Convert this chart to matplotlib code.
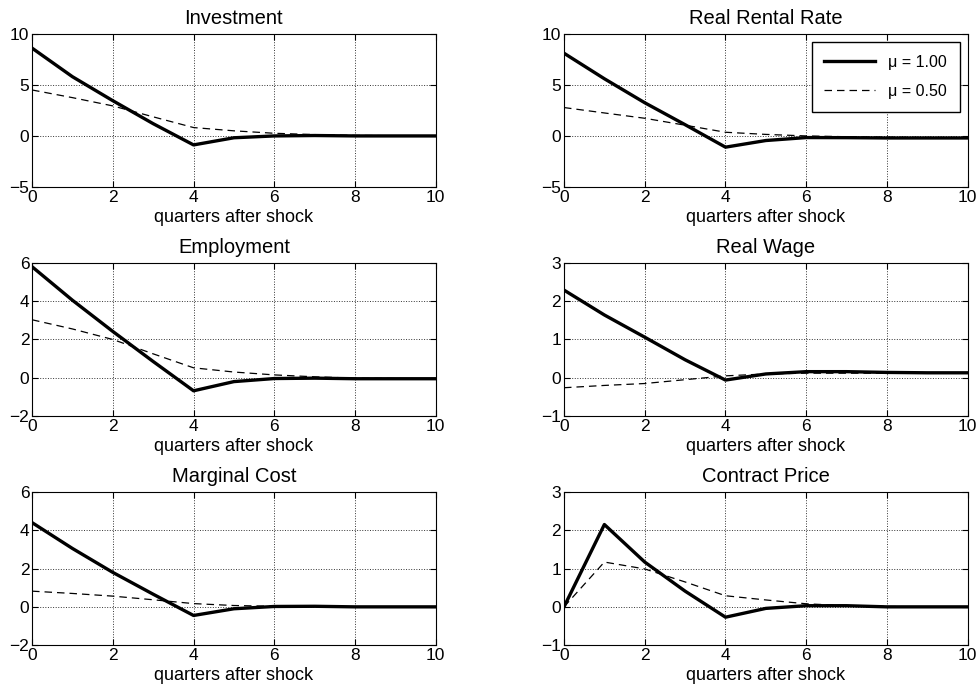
import matplotlib
matplotlib.use("Agg")
import matplotlib.pyplot as plt

plt.rcParams['font.family'] = ['Liberation Sans', 'DejaVu Sans']

# Data
quarters = [0, 1, 2, 3, 4, 5, 6, 7, 8, 9, 10]
titles = ['Investment', 'Real Rental Rate', 'Employment',
          'Real Wage', 'Marginal Cost', 'Contract Price']

mu100 = [
    [8.6, 5.8, 3.45, 1.2, -0.88, -0.18, 0.0, 0.04, 0.0, 0.0, 0.0],
    [8.1, 5.6, 3.25, 1.1, -1.1, -0.45, -0.16, -0.17, -0.2, -0.2, -0.2],
    [5.8, 4.05, 2.42, 0.85, -0.68, -0.2, -0.04, -0.02, -0.05, -0.05, -0.05],
    [2.29, 1.64, 1.06, 0.47, -0.06, 0.1, 0.16, 0.16, 0.14, 0.13, 0.13],
    [4.4, 3.05, 1.8, 0.66, -0.45, -0.1, 0.02, 0.03, 0.0, 0.0, 0.0],
    [0.0, 2.15, 1.17, 0.41, -0.27, -0.04, 0.03, 0.03, 0.0, 0.0, 0.0],
]
mu050 = [
    [4.5, 3.75, 2.94, 1.87, 0.82, 0.5, 0.26, 0.13, 0.05, 0.02, 0.0],
    [2.78, 2.25, 1.73, 1.05, 0.36, 0.15, 0.0, -0.08, -0.12, -0.15, -0.15],
    [3.03, 2.55, 2.0, 1.25, 0.52, 0.3, 0.15, 0.05, -0.02, -0.04, -0.05],
    [-0.26, -0.2, -0.15, -0.05, 0.05, 0.1, 0.12, 0.12, 0.12, 0.12, 0.12],
    [0.82, 0.7, 0.56, 0.37, 0.17, 0.07, 0.03, 0.01, 0.0, 0.0, 0.0],
    [0.0, 1.17, 0.99, 0.65, 0.29, 0.18, 0.08, 0.03, 0.01, 0.0, 0.0],
]
ylims = [(-5, 10), (-5, 10), (-2, 6), (-1, 3), (-2, 6), (-1, 3)]
ysteps = [5, 5, 2, 1, 2, 1]

fig = plt.figure(figsize=(9.8, 6.9), dpi=100)

lefts = [0.0327, 0.5755]
bottoms = [0.729, 0.397, 0.065]
w, h = 0.412, 0.222

for i, title in enumerate(titles):
    row, col = divmod(i, 2)
    ax = fig.add_axes([lefts[col], bottoms[row], w, h])
    ax.plot(quarters, mu100[i], 'k-', linewidth=2.4, label='\u03bc = 1.00')
    ax.plot(quarters, mu050[i], 'k--', linewidth=0.9, dashes=(6, 4),
            label='\u03bc = 0.50')
    lo, hi = ylims[i]
    ax.set_xlim(0, 10)
    ax.set_ylim(lo, hi)
    ax.set_xticks(range(0, 11, 2))
    ax.set_yticks(range(lo, hi + 1, ysteps[i]))
    ax.grid(True, linestyle=':', color='k', linewidth=0.7, alpha=0.8)
    ax.tick_params(direction='in', top=True, right=True, labelsize=12.5,
                   length=4, pad=2)
    for s in ax.spines.values():
        s.set_linewidth(0.8)
    ax.set_title(title, fontsize=14.5, pad=7)
    ax.set_xlabel('quarters after shock', fontsize=13, labelpad=3)
    if i == 1:
        ax.legend(loc='upper right', fontsize=11.5, fancybox=False,
                  edgecolor='k', framealpha=1, handlelength=3.2,
                  borderpad=0.8, labelspacing=0.9)

plt.savefig('out.png', dpi=100)
